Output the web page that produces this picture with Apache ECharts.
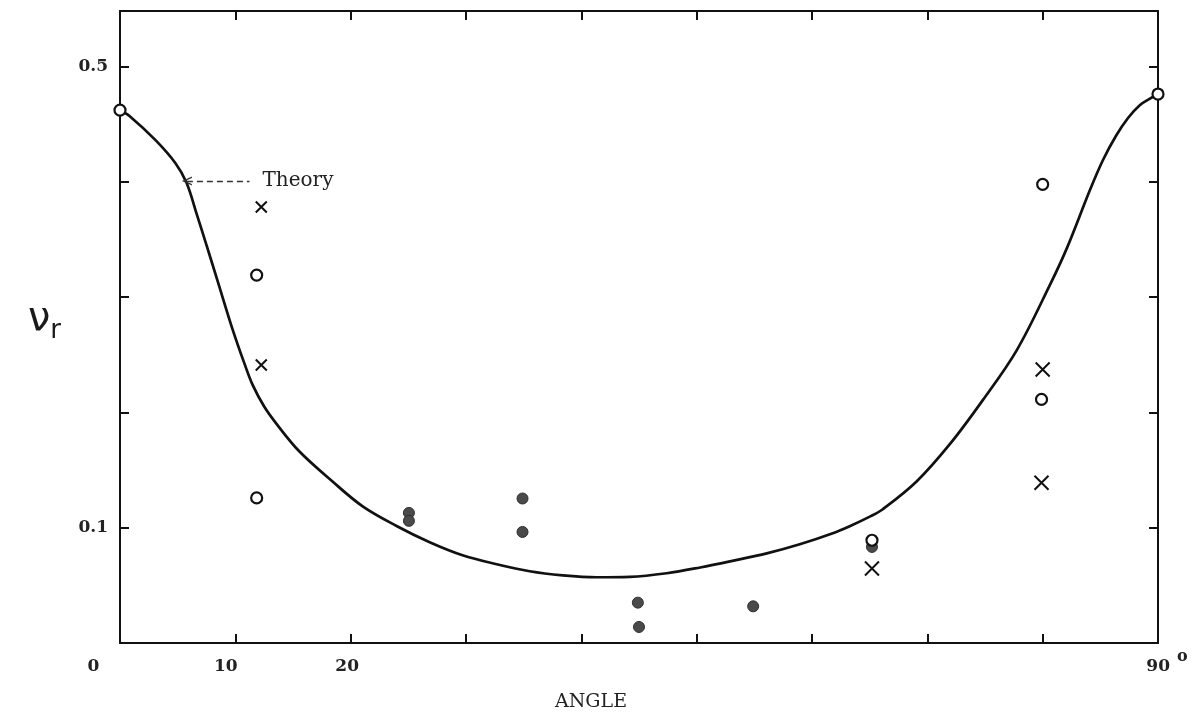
<!DOCTYPE html>
<html><head><meta charset="utf-8">
<script src="https://cdn.jsdelivr.net/npm/echarts@6/dist/echarts.min.js"></script>
<style>html,body{margin:0;padding:0;background:#fff}#c{width:1195px;height:715px}</style>
</head><body><div id="c"></div>
<script>
// ---- data ----
const theoryAngle = [0, 0.82, 3.08, 4.81, 5.77, 6.68, 7.5, 8.46, 9.76, 10.8, 11.49, 12.5, 13.57, 15.56, 18.43, 21.04, 23.98, 26.85, 29.7, 32.66, 35.52, 38.38, 41.33, 44.2, 47.4, 50.3, 53.1, 56.08, 58.94, 61.8, 63.27, 65.1, 66.14, 69.09, 71.95, 74.81, 77.76, 80.62, 82.1, 84.1, 85.23, 86.35, 87.4, 88.44, 89.3, 90];
const theoryValue = [0.462, 0.457, 0.436, 0.416, 0.399, 0.371, 0.345, 0.314, 0.272, 0.242, 0.224, 0.205, 0.19, 0.166, 0.14, 0.1185, 0.1015, 0.0874, 0.0761, 0.0683, 0.0622, 0.0587, 0.057, 0.0574, 0.0605, 0.0655, 0.0712, 0.0777, 0.0856, 0.0952, 0.1013, 0.11, 0.116, 0.1403, 0.1724, 0.2106, 0.254, 0.3103, 0.3424, 0.3928, 0.4188, 0.4396, 0.4552, 0.4665, 0.472, 0.476];

const openAngle = [0, 11.85, 11.85, 65.2, 80.0, 79.9, 90];
const openValue = [0.462, 0.319, 0.1258, 0.0891, 0.3977, 0.2112, 0.476];

const crossAngle = [12.25, 12.25, 65.2, 80.0, 79.9];
const crossValue = [0.378, 0.241, 0.0646, 0.2372, 0.1389];

const filledAngle = [25.05, 25.05, 34.9, 34.9, 44.9, 45.0, 54.9, 65.2];
const filledValue = [0.1128, 0.1059, 0.1253, 0.0963, 0.0350, 0.0139, 0.0318, 0.0833];

const xTickLabels = {0: '{z|0}', 10: '{t|10}', 20: '{u|20}', 90: '{n|90}{d|o}'};
const yTickLabels = [0.1, 0.5];
const theoryLabel = 'Theory';
const theoryArrow = [[5.8, 0.4006], [11.23, 0.4006]];

// ---- build ----
const zip = (a, b) => a.map((v, i) => [v, b[i]]);
const serif = 'DejaVu Serif';
const ink = '#111';

const axisCommon = () => ({
  type: 'value', min: 0,
  axisLine: {show: true, onZero: false, lineStyle: {color: ink, width: 2}},
  axisTick: {show: true, inside: true, length: 9, lineStyle: {color: ink, width: 2}},
  splitLine: {show: false}
});
const tok = (pad) => ({fontFamily: serif, fontSize: 17, fontWeight: 'bold', color: '#222', lineHeight: 33, padding: pad});

const option = {
  backgroundColor: '#fff',
  animation: false,
  grid: {left: 120, right: 37, top: 11, bottom: 72, containLabel: false, outerBoundsMode: 'none'},
  xAxis: [
    Object.assign(axisCommon(), {
      position: 'bottom', max: 90, interval: 10,
      name: 'ANGLE', nameLocation: 'middle', nameGap: 50,
      nameTextStyle: {fontFamily: serif, fontSize: 19, color: '#222', padding: [0, 96, 0, 0]},
      axisLabel: {
        margin: 7, color: '#222', fontFamily: serif, fontSize: 17, fontWeight: 'bold',
        showMaxLabel: true, showMinLabel: true,
        formatter: v => (Math.abs(v - Math.round(v)) < 1e-6 && xTickLabels[Math.round(v)]) || '',
        rich: {
          z: tok([0, 53, 0, 0]),
          t: tok([0, 19, 0, 0]),
          u: tok([0, 7, 0, 0]),
          n: tok([0, 0, 0, 18]),
          d: {fontFamily: serif, fontSize: 16, color: '#222', lineHeight: 15, padding: [0, 0, 20, 7]}
        }
      }
    }),
    Object.assign(axisCommon(), {position: 'top', max: 90, interval: 10, axisLabel: {show: false}})
  ],
  yAxis: [
    Object.assign(axisCommon(), {
      position: 'left', max: 0.548, interval: 0.1,
      axisLabel: {
        margin: 12, color: '#222', fontFamily: serif, fontSize: 17, fontWeight: 'bold',
        showMaxLabel: false,
        formatter: v => yTickLabels.some(t => Math.abs(v - t) < 1e-6) ? v.toFixed(1) : ''
      }
    }),
    Object.assign(axisCommon(), {position: 'right', max: 0.548, interval: 0.1, axisLabel: {show: false}})
  ],
  graphic: [{
    type: 'text', left: 28, top: 300, z: 10,
    style: {
      text: '{a|ν}{b|r}',
      rich: {
        a: {fontFamily: 'DejaVu Sans', fontSize: 40, fill: '#1a1a1a'},
        b: {fontFamily: 'DejaVu Sans', fontSize: 26, fill: '#1a1a1a', padding: [22, 0, 0, 0]}
      }
    }
  }],
  series: [
    {
      name: 'Theory', type: 'line', smooth: 0.35, showSymbol: false, z: 3,
      data: zip(theoryAngle, theoryValue),
      lineStyle: {color: ink, width: 2.7},
      markLine: {
        silent: true,
        symbol: ['path://M0,10L5,0L10,10L8.4,10L5,3.2L1.6,10Z', 'none'],
        symbolSize: [9, 10],
        lineStyle: {type: [6, 4], color: '#333', width: 1.3},
        label: {show: true, position: 'end', distance: 13, formatter: theoryLabel,
                fontFamily: serif, fontSize: 20, color: '#222'},
        data: [[{coord: theoryArrow[0]}, {coord: theoryArrow[1]}]]
      }
    },
    {
      name: 'open', type: 'scatter', z: 5,
      symbol: 'circle', symbolSize: 11,
      data: zip(openAngle, openValue),
      itemStyle: {color: '#fff', borderColor: ink, borderWidth: 2.2, opacity: 1}
    },
    {
      name: 'filled', type: 'scatter', z: 4,
      symbol: 'circle', symbolSize: 11,
      data: zip(filledAngle, filledValue),
      itemStyle: {color: '#4a4a4a', borderColor: '#2e2e2e', borderWidth: 1, opacity: 1}
    },
    {
      name: 'cross', type: 'scatter', z: 5,
      symbol: 'path://M0,0L10,10M10,0L0,10',
      symbolSize: v => v[0] > 50 ? 14 : 11,
      data: zip(crossAngle, crossValue),
      itemStyle: {color: 'rgba(0,0,0,0)', borderColor: ink, borderWidth: 2, opacity: 1}
    }
  ]
};
echarts.init(document.getElementById('c'), null, {renderer: 'canvas'}).setOption(option);
</script>
</body></html>
